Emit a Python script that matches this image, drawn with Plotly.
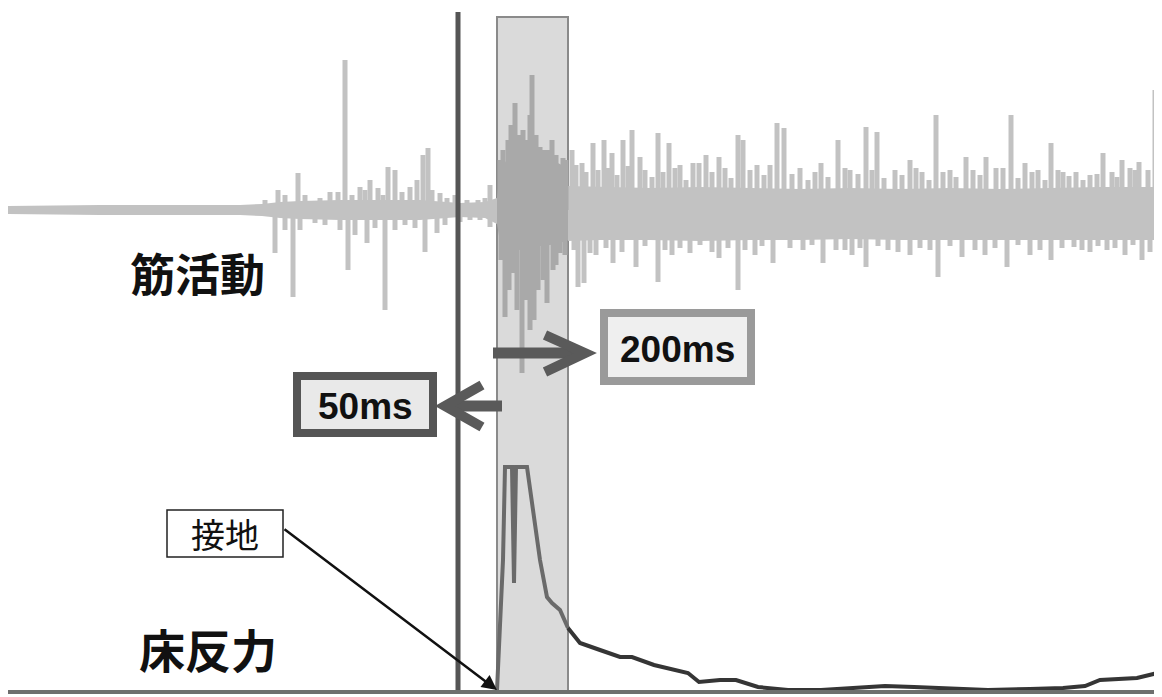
import plotly.graph_objects as go

# ---------------- data ----------------
# EMG (muscle activity) — background band envelope
band_x = [8, 100, 200, 240, 262, 280, 300, 340, 380, 420, 460, 485, 497]
band_hi = [4, 5, 5, 5, 6, 8, 9, 10, 10, 10, 7, 8, 12]
band_lo = [-4, -5, -5, -5, -6, -8, -9, -10, -10, -10, -7, -8, -14]

burst_x = [497, 500, 510, 520, 530, 540, 550, 560, 568]
burst_hi = [12, 40, 55, 58, 56, 54, 50, 46, 40]
burst_lo = [-14, -32, -38, -40, -38, -36, -35, -33, -30]

late_x = [568, 600, 650, 700, 750, 800, 850, 900, 950, 1000, 1050, 1100, 1162]
late_hi = [24, 23, 22, 23, 22, 21, 22, 21, 22, 21, 22, 23, 23]
late_lo = [-31, -30, -30, -31, -30, -30, -29, -30, -30, -30, -30, -30, -30]

# EMG large spikes (peak values)
up_x = [278, 298, 330, 345, 360, 370, 378, 388, 395, 410, 417, 423, 428, 440, 467, 490,
        503, 508, 515, 519, 523, 527, 532, 536, 540, 548, 556, 563,
        572, 582, 593, 604, 612, 623, 632, 640, 658, 669, 680, 693, 699, 706, 719, 738, 743,
        757, 777, 784, 800, 821, 838, 850, 866, 877, 895, 910, 922, 936, 950, 966, 986, 996,
        1011, 1025, 1038, 1051, 1063, 1076, 1090, 1103, 1122, 1130, 1139, 1148, 1155]
up_v = [20, 37, 18, 150, 23, 30, 22, 43, 40, 23, 30, 55, 62, 17, 10, 25,
        60, 70, 107, 75, 80, 70, 135, 75, 63, 60, 55, 52,
        60, 47, 67, 70, 57, 70, 80, 53, 77, 67, 45, 47, 47, 55, 53, 75, 70,
        45, 87, 82, 42, 47, 70, 40, 83, 78, 40, 50, 38, 95, 40, 53, 53, 42,
        95, 47, 40, 67, 38, 38, 35, 57, 50, 42, 48, 40, 120]

down_x = [275, 285, 293, 315, 348, 367, 385, 425, 437, 470, 490,
          505, 513, 522, 530, 538, 547, 553, 560,
          578, 584, 590, 613, 636, 658, 672, 690, 719, 738, 755, 773, 803, 823, 836, 852,
          866, 888, 910, 938, 962, 985, 1007, 1030, 1051, 1074, 1090, 1107, 1125, 1142, 1159]
down_v = [-43, -20, -87, -13, -60, -33, -100, -42, -23, -10, -17,
          -107, -63, -163, -120, -80, -93, -60, -43,
          -77, -73, -43, -53, -57, -72, -45, -43, -48, -80, -45, -53, -40, -53, -40, -45,
          -57, -40, -45, -67, -47, -45, -57, -45, -50, -37, -42, -40, -45, -50, -77]

# EMG smaller spikes (texture of the signal)
mid_up_x = [265, 285, 305, 320, 338, 352, 365, 383, 402, 432, 447, 455, 478, 485,
            500, 511, 530, 544, 552, 566,
            576, 586, 598, 608, 617, 628, 645, 652, 663, 675, 686, 712, 725, 731, 750, 764, 770,
            792, 808, 815, 828, 845, 858, 872, 884, 902, 916, 929, 943, 956, 973, 980, 1003,
            1018, 1032, 1045, 1058, 1069, 1083, 1097, 1112, 1117, 1135, 1160]
mid_up_v = [10, 15, 15, 12, 18, 15, 20, 15, 18, 20, 12, 15, 10, 12,
            50, 85, 95, 60, 70, 50,
            45, 38, 40, 42, 35, 44, 40, 33, 38, 42, 30, 38, 42, 32, 40, 35, 45,
            36, 30, 38, 33, 42, 36, 40, 32, 35, 42, 30, 38, 33, 40, 35, 42,
            32, 38, 30, 40, 34, 30, 36, 38, 33, 40, 45]
mid_dn_x = [300, 325, 340, 355, 375, 395, 405, 415, 445, 460, 480,
            501, 509, 517, 526, 534, 543, 556, 565,
            574, 596, 606, 622, 645, 665, 680, 700, 712, 728, 745, 762, 790, 812, 845, 860,
            878, 898, 920, 930, 950, 975, 995, 1018, 1040, 1062, 1082, 1098, 1115, 1133, 1150]
mid_dn_v = [-20, -15, -20, -25, -18, -20, -15, -18, -15, -12, -10,
            -50, -80, -100, -90, -110, -70, -55, -45,
            -40, -45, -38, -42, -36, -40, -38, -35, -42, -38, -40, -36, -38, -35, -40, -38,
            -36, -42, -38, -40, -36, -40, -38, -35, -40, -38, -40, -36, -38, -35, -42]

# ground reaction force (床反力)
force_x = [497, 500, 503, 505, 512, 514, 516, 527, 533, 540, 547, 552, 560, 568, 580, 600,
           620, 632, 654, 688, 699, 720, 736, 758, 788, 821, 858, 885, 914, 951, 988, 1030,
           1063, 1085, 1100, 1137, 1162]
force_v = [1, 71, 131, 224, 224, 108, 224, 224, 184, 131, 94, 88, 81, 63, 48, 41,
           34, 34, 26, 18, 9, 11, 11, 4, 1, 1, 3, 5, 4, 3, 1, 2,
           3, 5, 11, 13, 19]

# event markers
onset_line = 458          # 50 ms before contact
window = (497, 568)       # analysis window after contact

labels = {"emg": "筋活動", "grf": "床反力", "contact": "接地", "pre": "50ms", "post": "200ms"}

# ---------------- figure ----------------
PAGE_W, PAGE_H = 1162, 697
OFF = 8                       # default page margin of the html body
W, H = PAGE_W - OFF, PAGE_H - OFF
EMG_BASE_PX = 210
GROUND_PX = 691


def P(py):
    return 1 - (py - OFF) / H


def X(px):
    return (px - OFF) / W


EMG = "#c2c2c2"
EMG_IN = "#a9a9a9"

fig = go.Figure()


def band(xs, hi, lo, color):
    fig.add_trace(go.Scatter(x=list(xs) + list(xs)[::-1], y=list(hi) + list(lo)[::-1],
                             fill="toself", fillcolor=color, mode="lines",
                             line=dict(width=0), hoverinfo="skip", yaxis="y"))


band(band_x, band_hi, band_lo, EMG)
band(late_x, late_hi, late_lo, EMG)
band(burst_x, burst_hi, burst_lo, EMG_IN)


def spikes(xs, vs, inside):
    sx, sy = [], []
    for x, v in zip(xs, vs):
        if (window[0] <= x <= window[1]) == inside:
            sx += [x, x, None]
            sy += [0, v, None]
    return sx, sy


all_x = up_x + down_x + mid_up_x + mid_dn_x
all_v = up_v + down_v + mid_up_v + mid_dn_v
for inside, col in [(False, EMG), (True, EMG_IN)]:
    sx, sy = spikes(all_x, all_v, inside)
    fig.add_trace(go.Scatter(x=sx, y=sy, mode="lines", line=dict(color=col, width=5),
                             hoverinfo="skip", yaxis="y"))

# force trace split at end of window
n_in = len([x for x in force_x if x <= window[1]])
fig.add_trace(go.Scatter(x=force_x[:n_in], y=force_v[:n_in], mode="lines",
                         line=dict(color="#6a6a6a", width=4), yaxis="y2", hoverinfo="skip"))
fig.add_trace(go.Scatter(x=force_x[n_in - 1:], y=force_v[n_in - 1:], mode="lines",
                         line=dict(color="#353535", width=4), yaxis="y2", hoverinfo="skip"))

shapes = []
# analysis window
shapes.append(dict(type="rect", xref="x", yref="paper", x0=window[0], x1=window[1],
                   y0=P(GROUND_PX), y1=P(17), fillcolor="#dadada",
                   line=dict(color="#8a8a8a", width=2), layer="below"))
# onset vertical line
shapes.append(dict(type="line", xref="x", yref="paper", x0=onset_line, x1=onset_line,
                   y0=P(GROUND_PX), y1=P(12), line=dict(color="#555555", width=5)))
# ground line
shapes.append(dict(type="line", xref="paper", yref="paper", x0=0, x1=1,
                   y0=P(GROUND_PX + 1), y1=P(GROUND_PX + 1),
                   line=dict(color="#6e6e6e", width=4)))

ARW = "#5a5a5a"
# 200ms arrow
shapes.append(dict(type="line", xref="x", yref="paper", x0=493, x1=580, y0=P(353), y1=P(353),
                   line=dict(color=ARW, width=11)))
shapes.append(dict(type="path", xref="x", yref="paper",
                   path=f"M 545,{P(335)} L 585,{P(353)} L 545,{P(372)}",
                   line=dict(color=ARW, width=10)))
# 50ms arrow
shapes.append(dict(type="line", xref="x", yref="paper", x0=502, x1=446, y0=P(406), y1=P(406),
                   line=dict(color=ARW, width=11)))
shapes.append(dict(type="path", xref="x", yref="paper",
                   path=f"M 482,{P(385)} L 445,{P(406)} L 482,{P(427)}",
                   line=dict(color=ARW, width=10)))

# label boxes
shapes.append(dict(type="rect", xref="x", yref="paper", x0=297, x1=433, y0=P(376), y1=P(433),
                   fillcolor="#e9e9e9", line=dict(color="#555555", width=8)))
shapes.append(dict(type="rect", xref="x", yref="paper", x0=604, x1=751, y0=P(313), y1=P(381),
                   fillcolor="#efefef", line=dict(color="#9a9a9a", width=8)))
shapes.append(dict(type="rect", xref="x", yref="paper", x0=167, x1=283, y0=P(510), y1=P(557),
                   fillcolor="#ffffff", line=dict(color="#222222", width=1.5)))

CJK = "Noto Sans CJK JP"
SANS = "Arial, Liberation Sans, sans-serif"
common = dict(showarrow=False, xanchor="center", yanchor="middle")
ann = [
    dict(x=X(197), y=P(272), xref="paper", yref="paper", text=labels["emg"],
         font=dict(family=CJK, size=45, color="#111111", weight=600), **common),
    dict(x=X(208), y=P(648), xref="paper", yref="paper", text=labels["grf"],
         font=dict(family=CJK, size=46, color="#111111", weight=600), **common),
    dict(x=X(225), y=P(533), xref="paper", yref="paper", text=labels["contact"],
         font=dict(family=CJK, size=34, color="#111111"), **common),
    dict(x=365, y=P(406), xref="x", yref="paper", text=labels["pre"],
         font=dict(family=SANS, size=37, color="#111111", weight="bold"), **common),
    dict(x=677, y=P(349), xref="x", yref="paper", text=labels["post"],
         font=dict(family=SANS, size=37, color="#111111", weight="bold"), **common),
    # contact arrow
    dict(x=window[0], y=P(GROUND_PX - 1), xref="x", yref="paper", text="", showarrow=True,
         ax=283 - window[0], ay=528 - (GROUND_PX - 1), arrowhead=2, arrowsize=1.2,
         arrowwidth=2.5, arrowcolor="#111111", standoff=0),
]

fig.update_layout(
    width=W, height=H, margin=dict(l=0, r=0, t=0, b=0),
    paper_bgcolor="white", plot_bgcolor="white", showlegend=False,
    xaxis=dict(range=[OFF, PAGE_W], visible=False, fixedrange=True),
    yaxis=dict(range=[EMG_BASE_PX - PAGE_H, EMG_BASE_PX - OFF], visible=False,
               fixedrange=True),
    yaxis2=dict(range=[GROUND_PX - PAGE_H, GROUND_PX - OFF], visible=False, overlaying="y",
                fixedrange=True),
    shapes=shapes, annotations=ann,
)

fig.write_html("out.html", config={"displayModeBar": False})
